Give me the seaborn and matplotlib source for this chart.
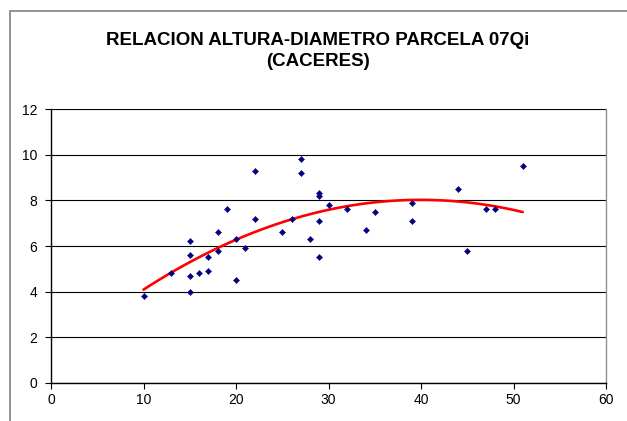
import numpy as np
import pandas as pd
import matplotlib
matplotlib.use("Agg")
import matplotlib.pyplot as plt
import seaborn as sns

# datos: diametro (x) y altura (y)
diametro = [10, 13, 15, 15, 15, 15, 16, 17, 17, 18, 18, 19, 20, 20, 21, 22, 22,
            25, 26, 27, 27, 28, 29, 29, 29, 29, 30, 32, 34, 35, 39, 39, 44, 45,
            47, 48, 51]
altura = [3.8, 4.8, 6.2, 5.6, 4.7, 4.0, 4.8, 5.5, 4.9, 6.6, 5.8, 7.6, 6.3, 4.5,
          5.9, 9.3, 7.2, 6.6, 7.2, 9.8, 9.2, 6.3, 8.3, 8.2, 7.1, 5.5, 7.8, 7.6,
          6.7, 7.5, 7.9, 7.1, 8.5, 5.8, 7.6, 7.6, 9.5]

titulo = "RELACION ALTURA-DIAMETRO PARCELA 07Qi\n(CACERES)"
x_ticks = [0, 10, 20, 30, 40, 50, 60]
y_ticks = [0, 2, 4, 6, 8, 10, 12]

df = pd.DataFrame({"diametro": diametro, "altura": altura})

sns.set_style("white")
plt.rcParams["font.family"] = ["Liberation Sans", "DejaVu Sans"]
plt.rcParams["text.color"] = "black"
plt.rcParams["xtick.color"] = "black"
plt.rcParams["ytick.color"] = "black"

fig = plt.figure(figsize=(6.27, 4.21), dpi=100)
W, H = 627, 421
ax = fig.add_axes([51 / W, 1 - 383 / H, (606 - 51) / W, (383 - 109) / H])

# borde exterior del grafico
fig.patches.append(plt.Rectangle((9.5 / W, -0.05), 1.2, 1 - 11 / H + 0.05,
                                 transform=fig.transFigure, fill=False,
                                 edgecolor="#808080", linewidth=1.2))

# linea de tendencia polinomica (orden 2)
sns.regplot(data=df, x="diametro", y="altura", order=2, ci=None, scatter=False,
            color="red", line_kws={"linewidth": 1.9}, ax=ax)
sns.scatterplot(data=df, x="diametro", y="altura", marker="D", s=10,
                color="#000080", edgecolor="#000080", linewidth=0.3, ax=ax,
                zorder=3)

ax.set_xlim(0, 60)
ax.set_ylim(0, 12)
ax.set_xticks(x_ticks)
ax.set_yticks(y_ticks)
ax.set_xlabel("")
ax.set_ylabel("")
ax.yaxis.grid(True, color="black", linewidth=0.8)
ax.set_axisbelow(True)
ax.tick_params(axis="both", labelsize=10, length=4, width=0.8,
               color="black", labelcolor="black", direction="out", pad=3)
ax.tick_params(axis="y", pad=6)
ax.xaxis.set_ticks_position("bottom")
ax.yaxis.set_ticks_position("left")
for side in ["left", "bottom"]:
    ax.spines[side].set_color("black")
    ax.spines[side].set_linewidth(1.0)
ax.spines["top"].set_visible(False)
ax.spines["right"].set_color("#909090")
ax.spines["right"].set_linewidth(1.0)

fig.text(318 / W, 1 - 51 / H, titulo, ha="center", va="center",
         fontsize=13.5, fontweight="bold", linespacing=1.25, color="black")

fig.savefig("out.png", dpi=100)
